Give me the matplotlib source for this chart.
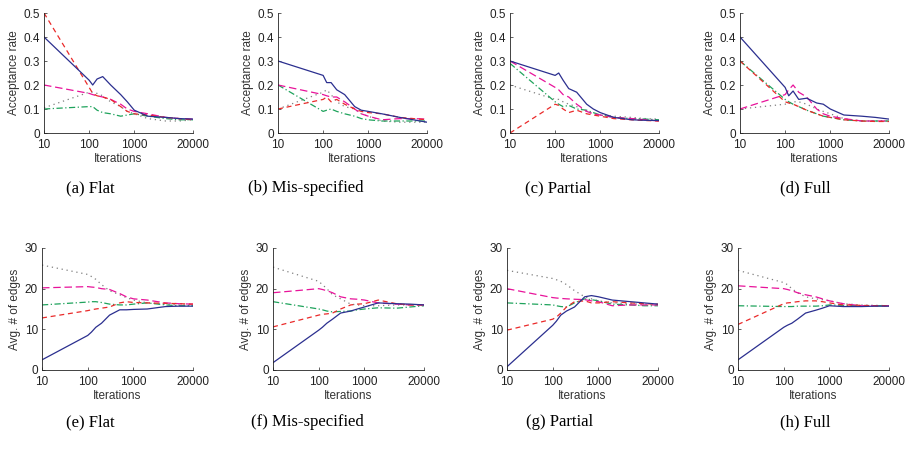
import numpy as np
import matplotlib.pyplot as plt
from matplotlib.ticker import FixedLocator, NullLocator

# ============================================================
# Data
# ============================================================

ITERS = [10, 100, 120, 150, 200, 300, 500, 700, 1000, 2000, 5000, 10000, 20000]

XTICKS = [10, 100, 1000, 20000]
XTICK_LABELS = ["10", "100", "1000", "20000"]

ACC_YTICKS = [0, 0.1, 0.2, 0.3, 0.4, 0.5]
ACC_YTICK_LABELS = ["0", "0.1", "0.2", "0.3", "0.4", "0.5"]
EDGE_YTICKS = [0, 10, 20, 30]
EDGE_YTICK_LABELS = ["0", "10", "20", "30"]

CAPTIONS_TOP = ["(a) Flat", "(b) Mis-specified", "(c) Partial", "(d) Full"]
CAPTIONS_BOTTOM = ["(e) Flat", "(f) Mis-specified", "(g) Partial", "(h) Full"]

# acceptance rate, panel (a) Flat
flat_acc_blue = [.40, .22, .20, .225, .235, .20, .16, .13, .095, .07, .065, .06, .058]
flat_acc_red = [.50, .19, .165, .155, .15, .14, .11, .09, .08, .075, .065, .06, .055]
flat_acc_magenta = [.20, .165, .16, .155, .15, .14, .12, .10, .09, .08, .065, .06, .058]
flat_acc_green = [.10, .11, .11, .095, .085, .08, .07, .075, .08, .07, .06, .055, .055]
flat_acc_gray = [.105, .17, .17, .165, .155, .13, .11, .09, .08, .06, .05, .05, .055]

# acceptance rate, panel (b) Mis-specified
mis_acc_blue = [.30, .24, .21, .21, .18, .16, .11, .095, .09, .08, .065, .055, .045]
mis_acc_red = [.10, .14, .15, .13, .14, .12, .10, .09, .085, .08, .065, .06, .055]
mis_acc_magenta = [.20, .16, .155, .15, .15, .13, .10, .08, .07, .055, .06, .06, .058]
mis_acc_green = [.20, .09, .095, .10, .09, .08, .07, .06, .055, .05, .05, .05, .05]
mis_acc_gray = [.10, .17, .18, .16, .13, .11, .10, .08, .07, .05, .045, .045, .045]

# acceptance rate, panel (c) Partial
part_acc_blue = [.30, .24, .25, .22, .185, .17, .12, .10, .085, .065, .055, .053, .052]
part_acc_red = [.00, .12, .115, .10, .085, .095, .08, .075, .07, .06, .055, .052, .05]
part_acc_magenta = [.30, .19, .18, .16, .15, .12, .09, .08, .075, .065, .06, .055, .05]
part_acc_green = [.29, .13, .12, .11, .115, .10, .095, .085, .075, .065, .06, .058, .055]
part_acc_gray = [.20, .14, .14, .13, .12, .11, .09, .08, .075, .07, .065, .06, .058]

# acceptance rate, panel (d) Full
full_acc_blue = [.40, .19, .155, .175, .14, .145, .125, .12, .10, .075, .07, .065, .058]
full_acc_red = [.30, .13, .125, .12, .11, .095, .08, .07, .065, .055, .05, .048, .048]
full_acc_magenta = [.10, .16, .18, .20, .17, .15, .10, .08, .07, .06, .05, .05, .05]
full_acc_green = [.30, .14, .13, .12, .11, .095, .08, .07, .065, .055, .05, .05, .05]
full_acc_gray = [.10, .12, .125, .13, .13, .12, .10, .09, .08, .06, .05, .05, .05]

# avg # of edges, panel (e) Flat
flat_edge_blue = [2.5, 8.5, 9.3, 10.5, 11.5, 13.5, 14.8, 14.8, 14.9, 15.0, 15.6, 15.7, 15.7]
flat_edge_red = [12.8, 14.6, 14.8, 15.0, 15.2, 15.5, 16.5, 16.8, 16.6, 16.5, 16.4, 16.3, 16.2]
flat_edge_magenta = [20.2, 20.5, 20.4, 20.3, 20.0, 19.8, 18.8, 18.0, 17.5, 17.2, 16.5, 16.3, 16.2]
flat_edge_green = [16.0, 16.7, 16.8, 16.8, 16.6, 16.2, 16.0, 16.0, 16.2, 16.5, 16.0, 15.8, 15.8]
flat_edge_gray = [25.8, 23.5, 23.0, 22.3, 21.0, 19.5, 18.5, 17.8, 17.2, 16.5, 16.2, 16.0, 16.0]

# avg # of edges, panel (f) Mis-specified
mis_edge_blue = [1.8, 9.8, 10.5, 11.5, 12.5, 14.0, 14.5, 15.0, 15.5, 16.5, 16.3, 16.2, 16.0]
mis_edge_red = [10.6, 13.5, 13.7, 13.8, 14.0, 15.0, 16.0, 16.2, 16.3, 17.2, 16.3, 16.0, 16.0]
mis_edge_magenta = [19.0, 20.0, 19.8, 19.5, 19.0, 18.0, 17.5, 17.4, 17.2, 16.5, 16.2, 16.0, 16.0]
mis_edge_green = [16.8, 15.0, 14.8, 14.5, 14.3, 14.4, 14.5, 14.8, 15.0, 15.3, 15.2, 15.5, 15.8]
mis_edge_gray = [25.3, 21.8, 21.0, 20.0, 18.5, 17.5, 16.2, 16.0, 15.8, 15.8, 16.0, 16.0, 16.0]

# avg # of edges, panel (g) Partial
part_edge_blue = [0.8, 11.0, 12.0, 13.5, 14.5, 15.5, 18.0, 18.3, 18.0, 17.2, 16.8, 16.5, 16.2]
part_edge_red = [9.8, 12.5, 13.0, 14.0, 15.5, 16.8, 17.0, 16.5, 16.5, 16.8, 16.5, 16.3, 16.2]
part_edge_magenta = [20.0, 17.8, 17.7, 17.6, 17.5, 17.4, 17.3, 17.0, 16.8, 15.8, 16.0, 16.0, 16.0]
part_edge_green = [16.5, 16.0, 15.8, 15.6, 15.5, 16.5, 17.5, 17.3, 17.0, 16.2, 16.0, 15.8, 15.8]
part_edge_gray = [24.5, 22.5, 22.2, 21.8, 21.0, 19.5, 18.0, 17.5, 17.0, 16.5, 16.3, 16.2, 16.2]

# avg # of edges, panel (h) Full
full_edge_blue = [2.5, 10.5, 11.0, 11.5, 12.5, 14.0, 14.7, 15.2, 15.8, 15.6, 15.6, 15.7, 15.7]
full_edge_red = [11.2, 16.3, 16.5, 16.6, 16.8, 17.0, 17.0, 16.8, 16.5, 16.0, 15.9, 15.8, 15.8]
full_edge_magenta = [20.7, 20.0, 19.8, 19.5, 19.0, 18.5, 18.0, 17.5, 17.0, 16.3, 15.8, 15.8, 15.8]
full_edge_green = [15.8, 15.6, 15.6, 15.6, 15.7, 15.7, 15.7, 15.8, 16.0, 15.9, 15.8, 15.8, 15.8]
full_edge_gray = [24.5, 21.5, 21.0, 20.0, 19.0, 18.0, 17.5, 17.3, 17.0, 16.3, 16.0, 15.9, 15.8]

# ============================================================
# Styles
# ============================================================

STYLES = {
    "gray": dict(color="#7f7f7f", linestyle=(0, (1, 3)), linewidth=0.9),
    "green": dict(color="#1fa35c", linestyle=(0, (5, 2, 1, 2)), linewidth=0.9),
    "magenta": dict(color="#e8139a", linestyle=(0, (6, 3)), linewidth=0.9),
    "red": dict(color="#ea2a2a", linestyle=(0, (4, 3)), linewidth=0.9),
    "blue": dict(color="#2b2f8f", linestyle="-", linewidth=0.9),
}

top_panels = [
    (flat_acc_gray, flat_acc_green, flat_acc_magenta, flat_acc_red, flat_acc_blue),
    (mis_acc_gray, mis_acc_green, mis_acc_magenta, mis_acc_red, mis_acc_blue),
    (part_acc_gray, part_acc_green, part_acc_magenta, part_acc_red, part_acc_blue),
    (full_acc_gray, full_acc_green, full_acc_magenta, full_acc_red, full_acc_blue),
]
bottom_panels = [
    (flat_edge_gray, flat_edge_green, flat_edge_magenta, flat_edge_red, flat_edge_blue),
    (mis_edge_gray, mis_edge_green, mis_edge_magenta, mis_edge_red, mis_edge_blue),
    (part_edge_gray, part_edge_green, part_edge_magenta, part_edge_red, part_edge_blue),
    (full_edge_gray, full_edge_green, full_edge_magenta, full_edge_red, full_edge_blue),
]
ORDER = ["gray", "green", "magenta", "red", "blue"]

W, H = 909, 449
TOP_LEFTS = [44, 278, 510, 740]
BOTTOM_LEFTS = [42, 273, 507, 738]
TOP_CAP_X = [90, 306, 558, 805]
BOTTOM_CAP_X = [90, 307, 560, 805]

plt.rcParams['font.family'] = ['Liberation Sans', 'DejaVu Sans']

fig = plt.figure(figsize=(W / 100, H / 100), dpi=100)


def style_axes(ax, yticks, ylabels, ylim, ylabel):
    ax.set_xscale('log')
    ax.set_xlim(10, 20000)
    ax.set_ylim(*ylim)
    ax.xaxis.set_major_locator(FixedLocator(XTICKS))
    ax.xaxis.set_minor_locator(NullLocator())
    ax.set_xticklabels(XTICK_LABELS)
    ax.set_yticks(yticks)
    ax.set_yticklabels(ylabels)
    for s in ['top', 'right']:
        ax.spines[s].set_visible(False)
    for s in ['left', 'bottom']:
        ax.spines[s].set_linewidth(0.6)
        ax.spines[s].set_color('#222222')
    ax.tick_params(direction='in', length=2, width=0.5, labelsize=8.5,
                   colors='#222222')
    ax.tick_params(axis='x', pad=4.5)
    ax.tick_params(axis='y', pad=3)
    ax.set_xlabel('Iterations', fontsize=8.5, color='#333333', labelpad=1)
    ax.set_ylabel(ylabel, fontsize=8.5, color='#333333', labelpad=2.5)


for i in range(4):
    ax = fig.add_axes([TOP_LEFTS[i] / W, 1 - 133 / H, 149 / W, 120 / H])
    for name, series in zip(ORDER, top_panels[i]):
        ax.plot(ITERS, series, **STYLES[name])
    style_axes(ax, ACC_YTICKS, ACC_YTICK_LABELS, (0, 0.5), 'Acceptance rate')
    fig.text(TOP_CAP_X[i] / W, 1 - 188 / H, CAPTIONS_TOP[i], ha='center', va='center',
             fontsize=12, family='Liberation Serif')

    ax = fig.add_axes([BOTTOM_LEFTS[i] / W, 1 - 370 / H, 151 / W, 122 / H])
    for name, series in zip(ORDER, bottom_panels[i]):
        ax.plot(ITERS, series, **STYLES[name])
    style_axes(ax, EDGE_YTICKS, EDGE_YTICK_LABELS, (0, 30), 'Avg. # of edges')
    fig.text(BOTTOM_CAP_X[i] / W, 1 - 422 / H, CAPTIONS_BOTTOM[i], ha='center', va='center',
             fontsize=12, family='Liberation Serif')

fig.savefig('out.png', dpi=100)
